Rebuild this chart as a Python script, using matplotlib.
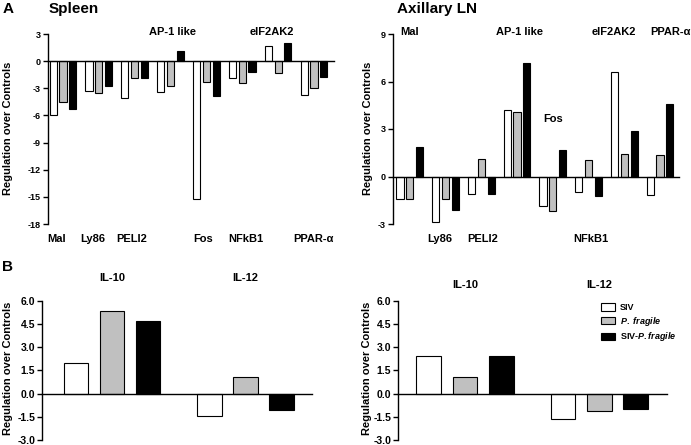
import numpy as np
import matplotlib
matplotlib.use('Agg')
import matplotlib.pyplot as plt
from matplotlib.patches import Patch
from matplotlib.transforms import blended_transform_factory

plt.rcParams['font.family'] = ['Liberation Sans', 'DejaVu Sans']
plt.rcParams['font.weight'] = 'bold'
plt.rcParams['mathtext.fontset'] = 'custom'
plt.rcParams['mathtext.it'] = 'Liberation Sans:italic:bold'
plt.rcParams['mathtext.rm'] = 'Liberation Sans:bold'

# genes (panel A)
genes = ['Mal', 'Ly86', 'PELI2', 'AP-1 like', 'Fos', 'NFkB1', 'eIF2AK2', 'PPAR-α']
series = ['SIV', r'$\it{P.\ fragile}$', r'SIV-$\it{P.fragile}$']

spleen_siv = [-6.0, -3.25, -4.1, -3.4, -15.2, -1.85, 1.7, -3.7]
spleen_pf = [-4.5, -3.5, -1.9, -2.7, -2.3, -2.4, -1.3, -3.0]
spleen_sivpf = [-5.3, -2.7, -1.9, 1.1, -3.8, -1.25, 2.05, -1.7]

axln_siv = [-1.4, -2.85, -1.1, 4.2, -1.85, -1.0, 6.6, -1.15]
axln_pf = [-1.4, -1.4, 1.08, 4.05, -2.2, 1.05, 1.45, 1.35]
axln_sivpf = [1.85, -2.1, -1.1, 7.2, 1.7, -1.2, 2.85, 4.6]

# cytokines (panel B)
cytokines = ['IL-10', 'IL-12']
spl_cyt_siv = [1.95, -1.45]
spl_cyt_pf = [5.35, 1.1]
spl_cyt_sivpf = [4.7, -1.05]
ln_cyt_siv = [2.45, -1.65]
ln_cyt_pf = [1.08, -1.12]
ln_cyt_sivpf = [2.45, -1.02]

colors = ['white', '#c0c0c0', 'black']
W, H = 691, 445

fig = plt.figure(figsize=[6.91, 4.45], dpi=100)


def axes_px(x0, x1, ytop, ybot):
    return fig.add_axes([x0 / W, 1 - ybot / H, (x1 - x0) / W, (ybot - ytop) / H])


def style(ax, yt, fmt, tsize):
    for s in ['top', 'right']:
        ax.spines[s].set_visible(False)
    ax.spines['bottom'].set_position(('data', 0))
    ax.spines['bottom'].set_linewidth(1.0)
    ax.spines['left'].set_linewidth(1.0)
    ax.set_xticks([])
    ax.set_yticks(yt)
    ax.set_yticklabels([fmt % v for v in yt], fontsize=tsize, fontweight='bold')
    ax.tick_params(axis='y', length=3.5, width=1.0, pad=1.5)
    ax.set_ylim(min(yt), max(yt))


def label(ax, x, ypx, txt, size=8):
    tr = blended_transform_factory(ax.transData, fig.transFigure)
    ax.text(x, 1 - ypx / H, txt, transform=tr, ha='center', va='center',
            fontsize=size, fontweight='bold', clip_on=False)


def ylab(xpx, ypx):
    fig.text(xpx / W, 1 - ypx / H, 'Regulation over Controls', rotation=90,
             ha='center', va='center', fontsize=8, fontweight='bold')


x = np.arange(len(genes))
offs = [-0.274, 0, 0.274]

# ---- A: spleen
ax1 = axes_px(48, 334, 34, 224)
for o, v, c in zip(offs, [spleen_siv, spleen_pf, spleen_sivpf], colors):
    ax1.bar(x + o, v, 0.2, color=c, edgecolor='black', linewidth=0.8, zorder=2)
ax1.set_xlim(-0.42, 7.56)
style(ax1, [3, 0, -3, -6, -9, -12, -15, -18], '%d', 6.5)
for i, dx in zip([0, 1, 2, 4, 5, 7], [-0.17, -0.17, -0.08, -0.1, 0.1, 0]):
    label(ax1, x[i] + dx, 239, genes[i])
for i, dx in zip([3, 6], [0.05, -0.17]):
    label(ax1, x[i] + dx, 32, genes[i])

# ---- A: axillary LN
ax2 = axes_px(393, 679, 34, 224)
for o, v, c in zip(offs, [axln_siv, axln_pf, axln_sivpf], colors):
    ax2.bar(x + o, v, 0.2, color=c, edgecolor='black', linewidth=0.8, zorder=2)
ax2.set_xlim(-0.47, 7.53)
style(ax2, [-3, 0, 3, 6, 9], '%d', 6.5)
for i, dx in zip([0, 3, 6, 7], [0, 0.08, -0.28, 0.28]):
    label(ax2, x[i] + dx, 32, genes[i])
for i, dx in zip([1, 2, 5], [-0.16, 0.05, 0.05]):
    label(ax2, x[i] + dx, 239, genes[i])
label(ax2, x[4], 119, genes[4])

# ---- B
xc = np.array([0, 3.7])
offs_b = [0, 1, 2]
ax3 = axes_px(42, 312, 300.7, 440)
for o, v, c in zip(offs_b, [spl_cyt_siv, spl_cyt_pf, spl_cyt_sivpf], colors):
    ax3.bar(xc + o, v, 0.68, color=c, edgecolor='black', linewidth=0.8, zorder=2)
ax3.set_xlim(-0.94, 6.55)
yb = [6.0, 4.5, 3.0, 1.5, 0.0, -1.5, -3.0]
style(ax3, yb, '%.1f', 7.5)
for i in range(2):
    label(ax3, xc[i] + 1, 278, cytokines[i])

ax4 = axes_px(398, 667, 300.7, 440)
for o, v, c in zip(offs_b, [ln_cyt_siv, ln_cyt_pf, ln_cyt_sivpf], colors):
    ax4.bar(xc + o, v, 0.68, color=c, edgecolor='black', linewidth=0.8, zorder=2)
ax4.set_xlim(-0.85, 6.57)
style(ax4, yb, '%.1f', 7.5)
for i in range(2):
    label(ax4, xc[i] + 1, 285, cytokines[i])

handles = [Patch(facecolor=c, edgecolor='black', linewidth=0.8) for c in colors]
fig.legend(handles, series, loc='upper left', bbox_to_anchor=(601 / W, 1 - 303 / H),
           frameon=False, fontsize=6.5, handlelength=1.6, handleheight=0.9,
           handletextpad=0.5, labelspacing=0.3, borderpad=0, borderaxespad=0)

# titles / letters
fig.text(8 / W, 1 - 9 / H, 'A', fontsize=11, fontweight='bold', ha='center', va='center')
fig.text(8 / W, 1 - 267 / H, 'B', fontsize=11, fontweight='bold', ha='center', va='center')
fig.text(74 / W, 1 - 9 / H, 'Spleen', fontsize=11, fontweight='bold', ha='center', va='center')
fig.text(437 / W, 1 - 9 / H, 'Axillary LN', fontsize=11, fontweight='bold', ha='center', va='center')
ylab(8, 128)
ylab(368, 128)
ylab(8, 368)
ylab(367, 368)

plt.savefig('out.png', dpi=100)
plt.close()
